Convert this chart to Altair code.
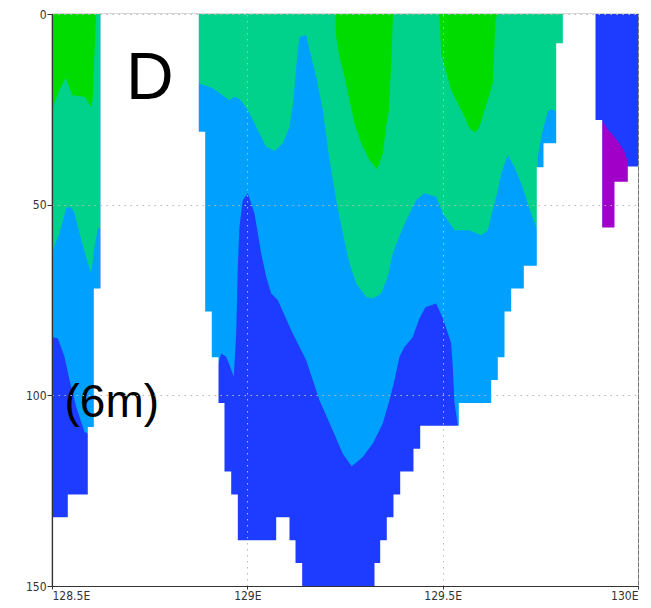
import altair as alt
import pandas as pd

# ---------------- data (longitude in degrees E, depth in m) ----------------
x_ticks = [128.5, 129.0, 129.5, 130.0]
y_ticks = [0, 50, 100, 150]
x_domain = [128.5, 130.0]
y_domain = [0, 150]

# sea-floor (bottom of data), step-after breakpoints; 0 = no data column
bot_lon = [128.5, 128.5404, 128.5916, 128.6070, 128.6241, 128.8758, 128.8921, 128.9090,
           128.9262, 128.9415, 128.9587, 128.9756, 129.0739, 129.1079, 129.1233, 129.1404,
           129.3255, 129.3401, 129.3570, 129.3741, 129.3913, 129.4253, 129.4425, 129.5413,
           129.6242, 129.6411, 129.6583, 129.6754, 129.7077, 129.7409, 129.7581, 129.7906,
           129.8075, 129.8912, 129.9083, 129.9398, 129.9739, 130.0]
bot_dep = [132, 126, 108.3, 72, 0, 30.9, 78, 90,
           102, 120, 126, 138, 132, 138, 144, 150,
           144, 138, 132, 126, 120, 114, 108, 102,
           96, 90, 78, 72, 66, 40.2, 33.9, 7.7,
           0, 27.8, 56, 44, 40, 40]

# light blue / dark blue boundary
lb_left_lon = [128.5, 128.5148, 128.5320, 128.5448, 128.5619, 128.5832, 128.5916, 128.6241]
lb_left_dep = [84.8, 85.0, 89.9, 96.0, 103.0, 109.6, 110.0, 150]
lb_mid_lon = [128.8758, 128.9249, 128.9331, 128.9459, 128.9561, 128.9653, 128.9715, 128.9756,
              128.9799, 128.9884, 129.0012, 129.0183, 129.0355, 129.0483, 129.0611, 129.0780,
              129.1123, 129.1507, 129.1847, 129.2188, 129.2444, 129.2671, 129.2956, 129.3211,
              129.3467, 129.3639, 129.3767, 129.3895, 129.4023, 129.4235, 129.4407, 129.4560,
              129.4834, 129.5003, 129.5218, 129.5259, 129.5303, 129.5387, 129.5467, 129.8075]
lb_mid_dep = [120, 92, 89.0, 89.9, 92.5, 95.2, 83.7, 66.3,
              55.8, 48.8, 47.0, 52.3, 62.8, 68.9, 73.3, 75.0,
              82.9, 90.8, 101.3, 109.2, 115.3, 118.6, 116.2, 112.6,
              107.4, 101.3, 96.0, 89.9, 87.3, 84.7, 79.8, 76.9,
              75.9, 79.8, 86.3, 92.6, 102.1, 107.8, 150, 150]

# teal / light blue boundary
teal_left_lon = [128.5, 128.5192, 128.5363, 128.5491, 128.5576, 128.5704, 128.5875, 128.6003,
                 128.6088, 128.6172, 128.6241]
teal_left_dep = [62.4, 57.5, 50.9, 50.6, 52.2, 57.5, 63.8, 68.0, 61.1, 56.2, 56.2]
teal_mid_lon = [128.8758, 128.9116, 128.9415, 128.9543, 128.9671, 128.9799, 129.0012, 129.0227,
                129.0483, 129.0695, 129.0908, 129.1079, 129.1182, 129.1251, 129.1335, 129.1507,
                129.1591, 129.1763, 129.1932, 129.2103, 129.2275, 129.2444, 129.2615, 129.2787,
                129.3043, 129.3211, 129.3426, 129.3595, 129.3723, 129.3851, 129.4067, 129.4322,
                129.4535, 129.4834, 129.5003, 129.5303, 129.5687, 129.5986, 129.6155, 129.6283,
                129.6411, 129.6498, 129.6667, 129.6838, 129.7010, 129.7179, 129.7307, 129.7409,
                129.7427, 129.7478, 129.7563, 129.7691, 129.7778, 129.7906, 129.8075]
teal_mid_dep = [18.2, 19.5, 21.7, 22.6, 21.7, 22.3, 25.2, 29.6,
                34.8, 35.9, 33.9, 29.6, 22.6, 13.8, 6.0, 5.5,
                9.4, 16.5, 25.2, 38.3, 48.8, 57.5, 65.4, 70.7,
                74.2, 74.6, 73.3, 68.9, 62.8, 59.3, 54.1, 48.8,
                47.0, 47.9, 52.3, 56.7, 56.7, 58.0, 56.7, 51.4,
                46.2, 41.8, 37.0, 40.1, 44.4, 49.7, 53.6, 56.2,
                37.8, 34.8, 30.4, 25.6, 24.9, 25.6, 25.6]

# green / teal boundary
green_left_lon = [128.5, 128.5064, 128.5192, 128.5346, 128.5525, 128.5832, 128.6003, 128.6037,
                  128.6070, 128.6131]
green_left_dep = [26.5, 23.4, 19.9, 16.8, 21.3, 21.7, 24.4, 22.6, 13.8, 0]
green_a_lon = [129.2249, 129.2275, 129.2359, 129.2487, 129.2615, 129.2743, 129.2914, 129.3127,
               129.3324, 129.3467, 129.3554, 129.3621, 129.3682, 129.3723, 129.3731]
green_a_dep = [0, 6.0, 11.2, 16.5, 22.6, 28.7, 33.9, 38.3, 40.8, 36.6, 29.6, 25.2, 13.8, 1.6, 0]
green_b_lon = [129.4919, 129.4962, 129.5047, 129.5218, 129.5387, 129.5559, 129.5687, 129.5828,
               129.5943, 129.6071, 129.6155, 129.6283, 129.6301, 129.6352, 129.6411]
green_b_dep = [0, 10.3, 13.8, 19.9, 23.4, 26.9, 30.0, 31.1, 29.6, 25.2, 22.6, 18.2, 13.8, 1.6, 0]

# purple (top boundary)
purple_lon = [129.9083, 129.9226, 129.9398, 129.9526, 129.9654, 129.9723, 129.9739]
purple_dep = [28.0, 30.3, 32.2, 34.0, 36.1, 38.3, 40.0]

# annotations
ann_text = ["D", "(6m)"]
ann_lon = [128.6894, 128.5320]
ann_dep = [22.4, 105.7]
ann_size = [66, 46]

C_GREEN = "#00dc00"
C_TEAL = "#00d28c"
C_LBLUE = "#00a0ff"
C_BLUE = "#1e3cff"
C_PURPLE = "#a000c8"

# ---------------- tables ----------------
def seg(lons, deps, name, d2):
    return pd.DataFrame({"lon": lons, "dep": deps, "dep2": [d2] * len(lons), "seg": name})

base_df = pd.DataFrame({"lon": [x_domain[0]], "lon2": [x_domain[1]],
                        "dep": [y_domain[0]], "dep2": [y_domain[1]]})
mask_df = seg(bot_lon, bot_dep, "m", y_domain[1])
lb_df = pd.concat([seg(lb_left_lon, lb_left_dep, "a", 0), seg(lb_mid_lon, lb_mid_dep, "b", 0)])
teal_df = pd.concat([seg(teal_left_lon, teal_left_dep, "a", 0), seg(teal_mid_lon, teal_mid_dep, "b", 0)])
green_df = pd.concat([seg(green_left_lon, green_left_dep, "a", 0),
                      seg(green_a_lon, green_a_dep, "b", 0),
                      seg(green_b_lon, green_b_dep, "c", 0)])
purple_df = seg(purple_lon, purple_dep, "p", y_domain[1])
ann_df = pd.DataFrame({"lon": ann_lon, "dep": ann_dep, "txt": ann_text, "fs": ann_size})

# ---------------- scales / axes ----------------
LABEL_FONT = "Liberation Sans Narrow, DejaVu Sans Condensed, Liberation Sans, sans-serif"
xs = alt.Scale(domain=x_domain, nice=False, zero=False)
ys = alt.Scale(domain=y_domain, reverse=True, nice=False, zero=False)
x_axis = alt.Axis(values=x_ticks, labelExpr="datum.value + 'E'", title=None,
                  grid=True, gridDash=[1.5, 4.5], gridColor="#b8b8b8", gridWidth=1,
                  tickSize=3, tickColor="#333333", domainColor="#333333", domainWidth=1.2,
                  labelFont=LABEL_FONT, labelFontSize=12, labelColor="#333333",
                  labelPadding=1, zindex=1)
y_axis = alt.Axis(values=y_ticks, title=None,
                  grid=True, gridDash=[1.5, 4.5], gridColor="#b8b8b8", gridWidth=1,
                  tickSize=5, tickColor="#333333", domainColor="#333333", domainWidth=1.2,
                  labelFont=LABEL_FONT, labelFontSize=12, labelColor="#333333",
                  labelPadding=1, zindex=1)

X = alt.X("lon:Q", scale=xs, axis=x_axis)
Y = alt.Y("dep:Q", scale=ys, axis=y_axis)


def area(df, color, interp="linear"):
    return alt.Chart(df).mark_area(color=color, interpolate=interp, opacity=1).encode(
        x=X, y=Y, y2="dep2:Q", detail="seg:N")


base = alt.Chart(base_df).mark_rect(color=C_BLUE).encode(x=X, x2="lon2:Q", y=Y, y2="dep2:Q")
lb = area(lb_df, C_LBLUE)
teal = area(teal_df, C_TEAL)
green = area(green_df, C_GREEN)
purple = area(purple_df, C_PURPLE)
mask = area(mask_df, "white", "step-after")
ann = alt.Chart(ann_df).mark_text(align="left", baseline="alphabetic", font="Liberation Sans",
                                  color="black").encode(
    x=X, y=Y, text="txt:N", size=alt.Size("fs:Q", scale=None, legend=None))

chart = alt.layer(base, lb, teal, green, purple, mask, ann).properties(
    width=586, height=572, autosize="none",
    padding={"left": 52, "top": 14, "right": 13, "bottom": 22},
    background="white",
).configure_view(stroke="#666666", strokeWidth=1.2)

chart.save("out.html", embed_options={"renderer": "svg", "actions": False})
